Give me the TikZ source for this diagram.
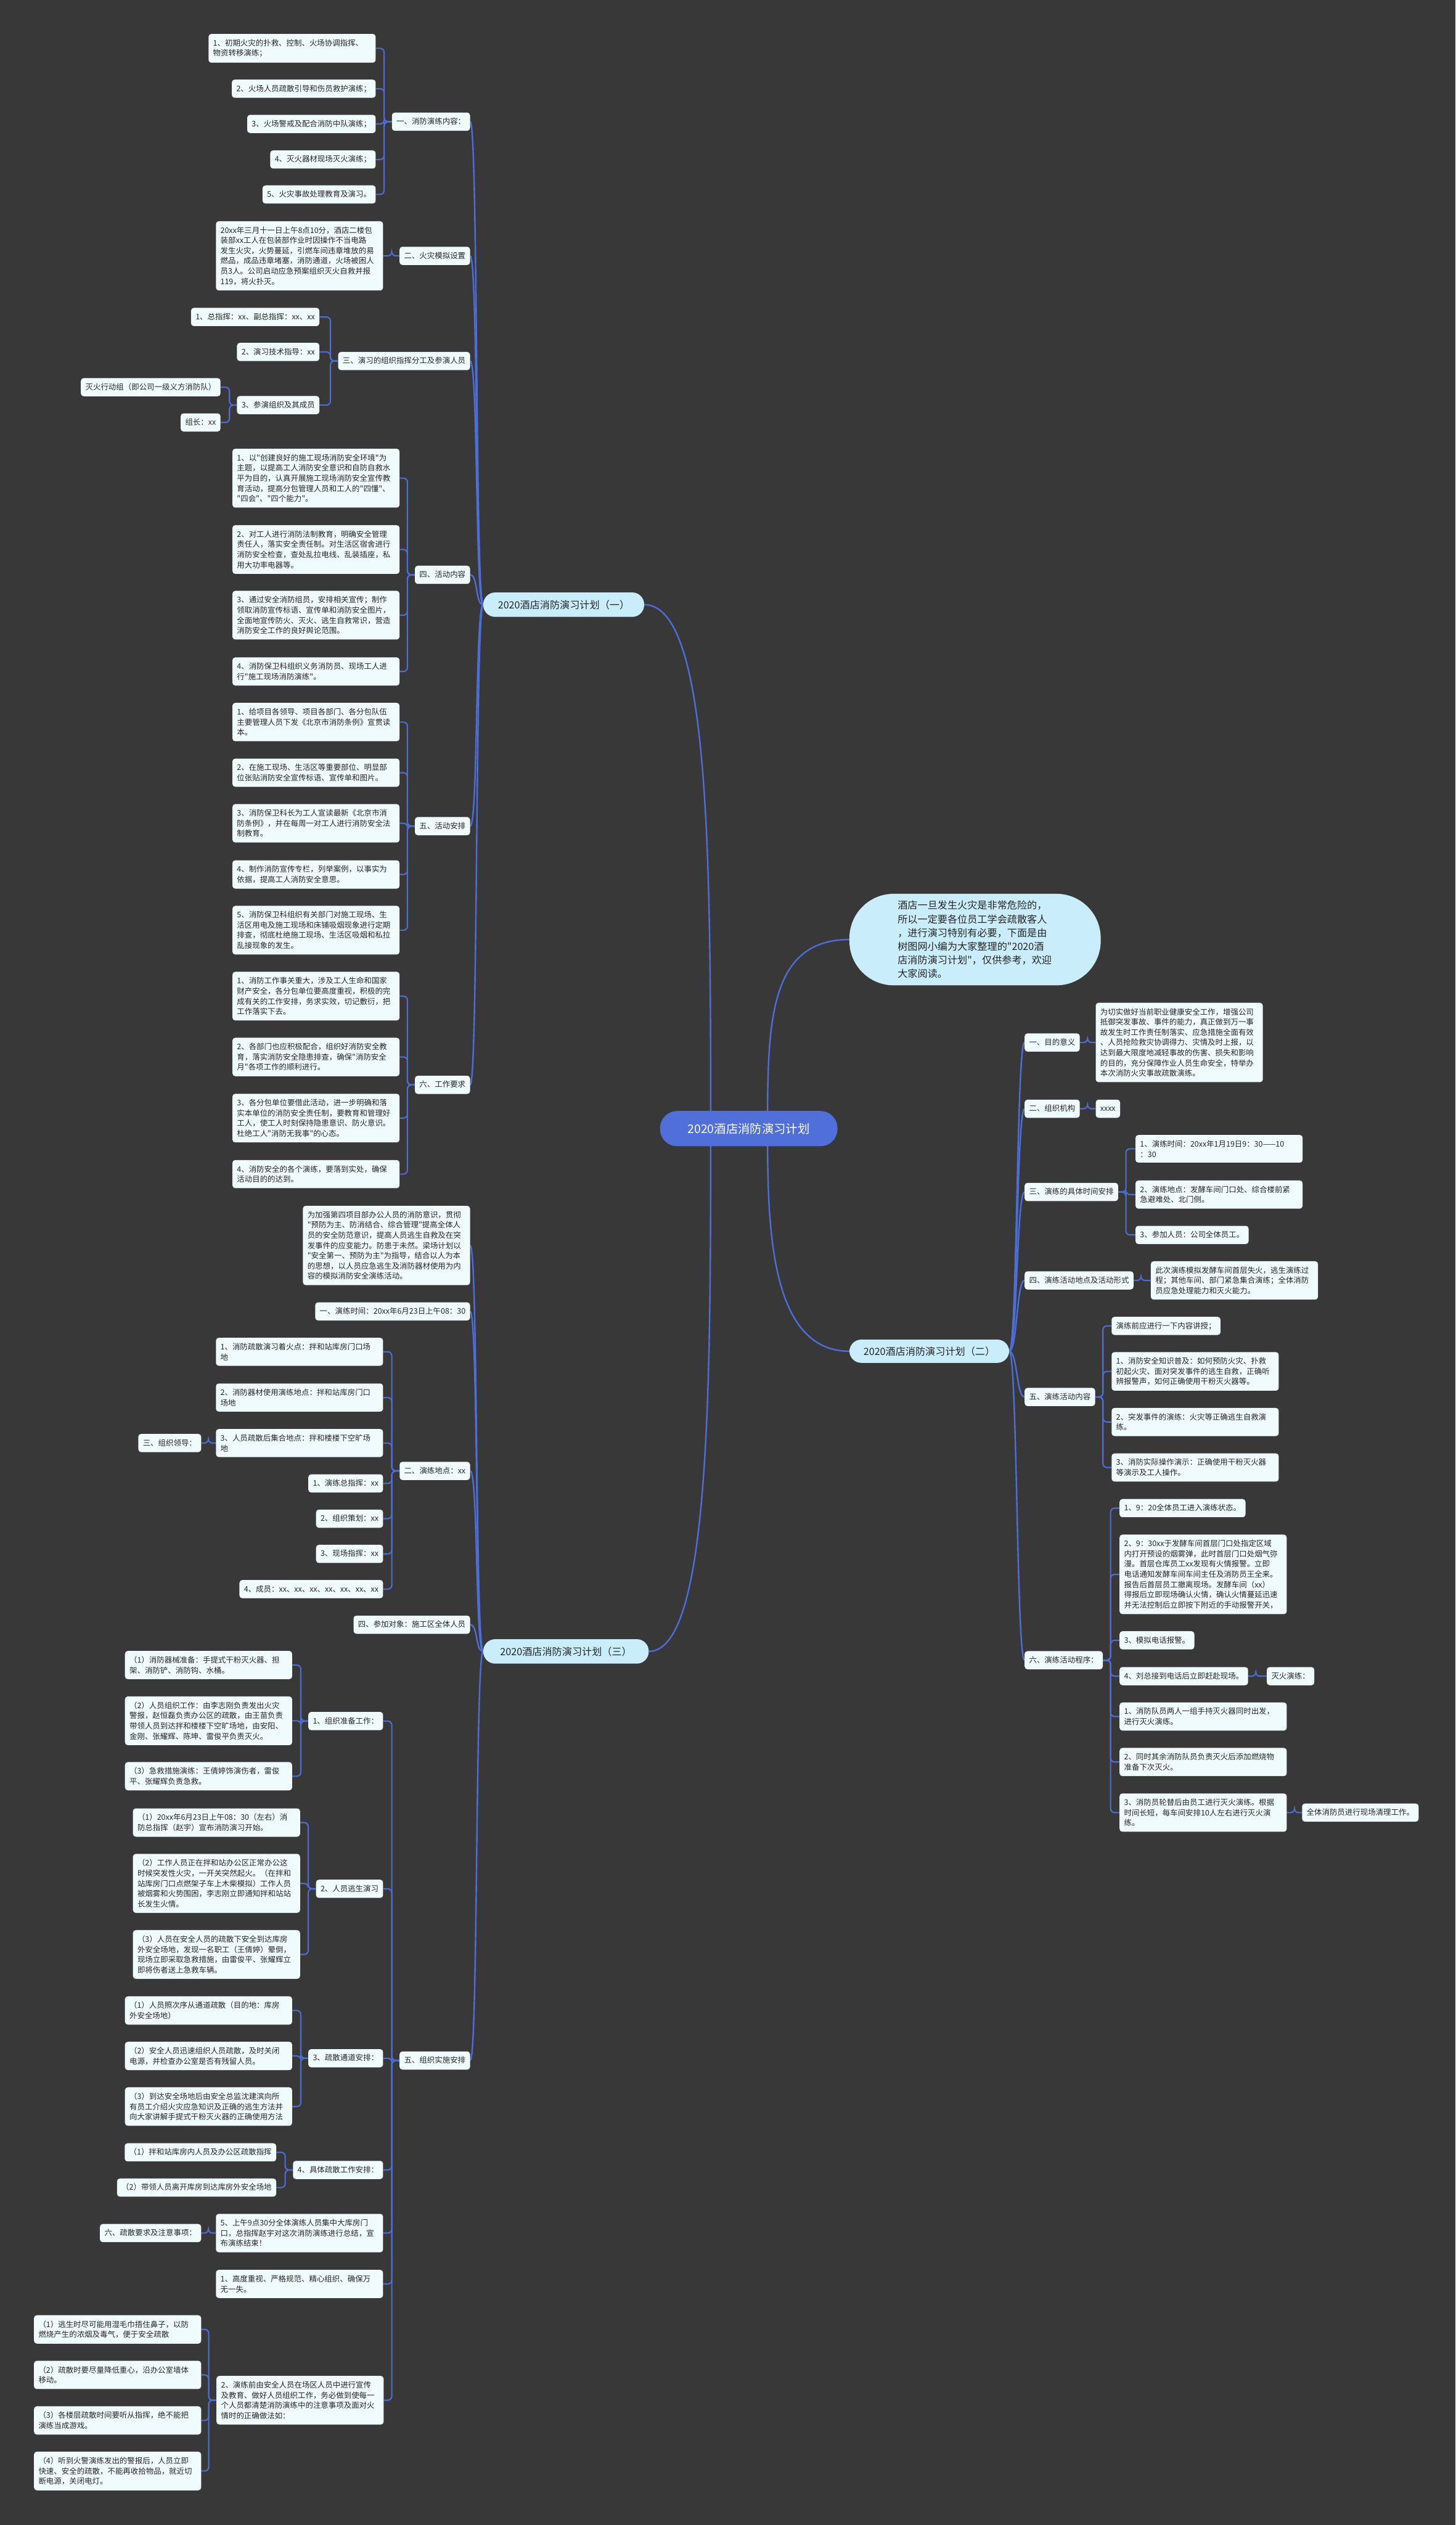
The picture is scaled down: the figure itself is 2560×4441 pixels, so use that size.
\documentclass[tikz,border=0pt]{standalone}
\usepackage{fontspec}
\newfontfamily\cjk{Noto Sans CJK SC}
\usetikzlibrary{backgrounds}
\definecolor{bgc}{HTML}{383838}
\definecolor{lnk}{HTML}{4C6ED6}
\definecolor{boxf}{HTML}{F0FBFE}
\definecolor{lvf}{HTML}{C9EDFB}
\definecolor{ctrf}{HTML}{506FD9}
\definecolor{txt}{HTML}{262626}
\tikzset{
 sbox/.style={fill=boxf, rounded corners=5pt, font=\cjk\fontsize{13.5}{18}\selectfont, text=txt, inner xsep=8pt, inner ysep=9pt, text height=11.5pt, text depth=2.5pt},
 mbox/.style={fill=boxf, rounded corners=5pt, font=\cjk\fontsize{13.5}{18}\selectfont, text=txt, inner xsep=8pt, inner ysep=9.5pt, text width=278pt, align=left},
 lvl/.style={fill=lvf, rounded corners=21pt, font=\cjk\fontsize{17.5}{22}\selectfont, text=txt, minimum height=43pt, inner xsep=0pt},
 ctr/.style={fill=ctrf, rounded corners=30pt, font=\cjk\fontsize{21}{26}\selectfont, text=white, minimum height=62pt, minimum width=312pt},
 intro/.style={fill=lvf, rounded corners=78pt, font=\cjk\fontsize{17.5}{24}\selectfont, text=txt, minimum height=161pt, minimum width=442pt, text width=272pt, align=left},
 lk/.style={draw=lnk, line width=2.3pt, rounded corners=7pt},
 lkc/.style={draw=lnk, line width=2.6pt}
}
\newcommand{\mmL}[3]{\draw[lk] (#1.west) -- ++(-#3,0) |- (#2.east);}
\newcommand{\mmR}[3]{\draw[lk] (#1.east) -- ++(#3,0) |- (#2.west);}
\newcommand{\cvL}[2]{\draw[lkc] (#1.west) .. controls +(-14,0) and +(14,0) .. (#2.east);}
\newcommand{\cvR}[2]{\draw[lkc] (#1.east) .. controls +(14,0) and +(-14,0) .. (#2.west);}
\begin{document}
\begin{tikzpicture}[x=1pt,y=-1pt]
\useasboundingbox (0,0) rectangle (2560,4441);
% centre and level 1
\node[ctr] (C) at (1317,1985) {2020酒店消防演习计划};
\node[lvl,minimum width=283pt] (P1) at (991.5,1063.5) {2020酒店消防演习计划（一）};
\node[lvl,minimum width=291pt] (P3) at (995.5,2904.5) {2020酒店消防演习计划（三）};
\node[lvl,minimum width=281pt,minimum height=41pt] (P2) at (1634.5,2376.5) {2020酒店消防演习计划（二）};
\node[intro] (IN) at (1715,1652.5) {酒店一旦发生火灾是非常危险的，\\所以一定要各位员工学会疏散客人\\，进行演习特别有必要，下面是由\\树图网小编为大家整理的"2020酒\\店消防演习计划"，仅供参考，欢迎\\大家阅读。};
% ---------- part one ----------
\node[sbox,anchor=east] (L1) at (827,214) {一、消防演练内容：};
\node[mbox,anchor=east] (a1) at (661,85) {1、初期火灾的扑救、控制、火场协调指挥、\\物资转移演练；};
\node[sbox,anchor=east] (a2) at (661,156) {2、火场人员疏散引导和伤员救护演练；};
\node[sbox,anchor=east] (a3) at (661,218) {3、火场警戒及配合消防中队演练；};
\node[sbox,anchor=east] (a4) at (661,280.5) {4、灭火器材现场灭火演练；};
\node[sbox,anchor=east] (a5) at (661,342) {5、火灾事故处理教育及演习。};
\node[sbox,anchor=east] (L2) at (827,450) {二、火灾模拟设置};
\node[mbox,anchor=east] (b1) at (674,450) {20xx年三月十一日上午8点10分，酒店二楼包\\装部xx工人在包装部作业时因操作不当电路\\发生火灾，火势蔓延，引燃车间违章堆放的易\\燃品，成品违章堵塞，消防通道，火场被困人\\员3人。公司启动应急预案组织灭火自救并报\\119，将火扑灭。};
\node[sbox,anchor=east] (L3) at (827,635) {三、演习的组织指挥分工及参演人员};
\node[sbox,anchor=east] (c1) at (562,557.5) {1、总指挥：xx、副总指挥：xx、xx};
\node[sbox,anchor=east] (c2) at (562,619) {2、演习技术指导：xx};
\node[sbox,anchor=east] (c3) at (562,712.5) {3、参演组织及其成员};
\node[sbox,anchor=east] (c3a) at (388,681) {灭火行动组（即公司一级义方消防队）};
\node[sbox,anchor=east] (c3b) at (388,743) {组长：xx};
\node[sbox,anchor=east] (L4) at (827,1011) {四、活动内容};
\node[mbox,anchor=east] (e1) at (703,841) {1、以"创建良好的施工现场消防安全环境"为\\主题，以提高工人消防安全意识和自防自救水\\平为目的，认真开展施工现场消防安全宣传教\\育活动，提高分包管理人员和工人的"四懂"、\\"四会"、"四个能力"。};
\node[mbox,anchor=east] (e2) at (703,966.5) {2、对工人进行消防法制教育，明确安全管理\\责任人，落实安全责任制。对生活区宿舍进行\\消防安全检查，查处乱拉电线、乱装插座，私\\用大功率电器等。};
\node[mbox,anchor=east] (e3) at (703,1082) {3、通过安全消防组员，安排相关宣传；制作\\领取消防宣传标语、宣传单和消防安全图片，\\全面地宣传防火、灭火、逃生自救常识，营造\\消防安全工作的良好舆论范围。};
\node[mbox,anchor=east] (e4) at (703,1181) {4、消防保卫科组织义务消防员、现场工人进\\行"施工现场消防演练"。};
\node[sbox,anchor=east] (L5) at (827,1453) {五、活动安排};
\node[mbox,anchor=east] (f1) at (703,1270) {1、给项目各领导、项目各部门、各分包队伍\\主要管理人员下发《北京市消防条例》宣贯读\\本。};
\node[mbox,anchor=east] (f2) at (703,1359) {2、在施工现场、生活区等重要部位、明显部\\位张贴消防安全宣传标语、宣传单和图片。};
\node[mbox,anchor=east] (f3) at (703,1448) {3、消防保卫科长为工人宣读最新《北京市消\\防条例》，并在每周一对工人进行消防安全法\\制教育。};
\node[mbox,anchor=east] (f4) at (703,1538) {4、制作消防宣传专栏，列举案例，以事实为\\依据，提高工人消防安全意思。};
\node[mbox,anchor=east] (f5) at (703,1636) {5、消防保卫科组织有关部门对施工现场、生\\活区用电及施工现场和床铺吸烟现象进行定期\\排查，彻底杜绝施工现场、生活区吸烟和私拉\\乱接现象的发生。};
\node[sbox,anchor=east] (L6) at (827,1908) {六、工作要求};
\node[mbox,anchor=east] (g1) at (703,1752) {1、消防工作事关重大，涉及工人生命和国家\\财产安全，各分包单位要高度重视，积极的完\\成有关的工作安排，务求实效，切记敷衍，把\\工作落实下去。};
\node[mbox,anchor=east] (g2) at (703,1859) {2、各部门也应积极配合，组织好消防安全教\\育，落实消防安全隐患排查，确保"消防安全\\月"各项工作的顺利进行。};
\node[mbox,anchor=east] (g3) at (703,1966.5) {3、各分包单位要借此活动，进一步明确和落\\实本单位的消防安全责任制，要教育和管理好\\工人，使工人时刻保持隐患意识、防火意识。\\杜绝工人"消防无我事"的心态。};
\node[mbox,anchor=east] (g4) at (703,2065) {4、消防安全的各个演练，要落到实处，确保\\活动目的的达到。};
% ---------- part three ----------
\node[mbox,anchor=east] (M1) at (827,2190.5) {为加强第四项目部办公人员的消防意识，贯彻\\"预防为主、防消结合、综合管理"提高全体人\\员的安全防范意识，提高人员逃生自救及在突\\发事件的应变能力。防患于未然。梁场计划以\\"安全第一、预防为主"为指导，结合以人为本\\的思想，以人员应急逃生及消防器材使用为内\\容的模拟消防安全演练活动。};
\node[sbox,anchor=east] (M2) at (827,2306.5) {一、演练时间：20xx年6月23日上午08：30};
\node[sbox,anchor=east] (M3) at (827,2587) {二、演练地点：xx};
\node[mbox,anchor=east] (h1) at (674,2377.5) {1、消防疏散演习着火点：拌和站库房门口场\\地};
\node[mbox,anchor=east] (h2) at (674,2458) {2、消防器材使用演练地点：拌和站库房门口\\场地};
\node[mbox,anchor=east] (h3) at (674,2538) {3、人员疏散后集合地点：拌和楼楼下空旷场\\地};
\node[sbox,anchor=east] (h3a) at (354,2538) {三、组织领导：};
\node[sbox,anchor=east] (h4) at (674,2609) {1、演练总指挥：xx};
\node[sbox,anchor=east] (h5) at (674,2671) {2、组织策划：xx};
\node[sbox,anchor=east] (h6) at (674,2733) {3、现场指挥：xx};
\node[sbox,anchor=east] (h7) at (674,2795) {4、成员：xx、xx、xx、xx、xx、xx、xx};
\node[sbox,anchor=east] (M4) at (827,2857.5) {四、参加对象：施工区全体人员};
\node[sbox,anchor=east] (M5) at (827,3624) {五、组织实施安排};
\node[sbox,anchor=east] (i1) at (674,3027) {1、组织准备工作：};
\node[mbox,anchor=east] (i1a) at (514,2928.5) {（1）消防器械准备：手提式干粉灭火器、担\\架、消防铲、消防钩、水桶。};
\node[mbox,anchor=east] (i1b) at (514,3026.5) {（2）人员组织工作：由李志刚负责发出火灾\\警报，赵恒磊负责办公区的疏散，由王苗负责\\带领人员到达拌和楼楼下空旷场地，由安阳、\\金刚、张耀辉、陈坤、雷俊平负责灭火。};
\node[mbox,anchor=east] (i1c) at (514,3124) {（3）急救措施演练：王倩婷饰演伤者，雷俊\\平、张耀辉负责急救。};
\node[sbox,anchor=east] (i2) at (674,3322) {2、人员逃生演习};
\node[mbox,anchor=east] (i2a) at (528,3205.5) {（1）20xx年6月23日上午08：30（左右）消\\防总指挥（赵宇）宣布消防演习开始。};
\node[mbox,anchor=east] (i2b) at (528,3312.5) {（2）工作人员正在拌和站办公区正常办公这\\时候突发性火灾，一开关突然起火。（在拌和\\站库房门口点燃架子车上木柴模拟）工作人员\\被烟雾和火势围困，李志刚立即通知拌和站站\\长发生火情。};
\node[mbox,anchor=east] (i2c) at (528,3437.5) {（3）人员在安全人员的疏散下安全到达库房\\外安全场地，发现一名职工（王倩婷）晕倒，\\现场立即采取急救措施，由雷俊平、张耀辉立\\即将伤者送上急救车辆。};
\node[sbox,anchor=east] (i3) at (674,3620) {3、疏散通道安排：};
\node[mbox,anchor=east] (i3a) at (514,3536) {（1）人员照次序从通道疏散（目的地：库房\\外安全场地）};
\node[mbox,anchor=east] (i3b) at (514,3616) {（2）安全人员迅速组织人员疏散，及时关闭\\电源，并检查办公室是否有残留人员。};
\node[mbox,anchor=east] (i3c) at (514,3705) {（3）到达安全场地后由安全总监沈建滨向所\\有员工介绍火灾应急知识及正确的逃生方法并\\向大家讲解手提式干粉灭火器的正确使用方法};
\node[sbox,anchor=east] (i4) at (674,3816.5) {4、具体疏散工作安排：};
\node[sbox,anchor=east] (i4a) at (486,3785.5) {（1）拌和站库房内人员及办公区疏散指挥};
\node[sbox,anchor=east] (i4b) at (486,3847.5) {（2）带领人员离开库房到达库房外安全场地};
\node[mbox,anchor=east] (i5) at (674,3927.5) {5、上午9点30分全体演练人员集中大库房门\\口，总指挥赵宇对这次消防演练进行总结，宣\\布演练结束！};
\node[sbox,anchor=east] (i5a) at (354,3927.5) {六、疏散要求及注意事项：};
\node[mbox,anchor=east] (i6) at (674,4017) {1、高度重视、严格规范、精心组织、确保万\\无一失。};
\node[mbox,anchor=east] (i7) at (675,4221.5) {2、演练前由安全人员在场区人员中进行宣传\\及教育、做好人员组织工作，务必做到使每一\\个人员都清楚消防演练中的注意事项及面对火\\情时的正确做法如：};
\node[mbox,anchor=east] (i7a) at (354,4097) {（1）逃生时尽可能用湿毛巾捂住鼻子，以防\\燃烧产生的浓烟及毒气，便于安全疏散};
\node[mbox,anchor=east] (i7b) at (354,4177) {（2）疏散时要尽量降低重心，沿办公室墙体\\移动。};
\node[mbox,anchor=east] (i7c) at (354,4257) {（3）各楼层疏散时间要听从指挥，绝不能把\\演练当成游戏。};
\node[mbox,anchor=east] (i7d) at (354,4346) {（4）听到火警演练发出的警报后，人员立即\\快速、安全的疏散，不能再收拾物品，就近切\\断电源，关闭电灯。};
% ---------- part two (right) ----------
\node[sbox,anchor=west] (R1) at (1802,1833.5) {一、目的意义};
\node[mbox,anchor=west] (r1a) at (1927,1833.5) {为切实做好当前职业健康安全工作，增强公司\\抵御突发事故、事件的能力，真正做到万一事\\故发生时工作责任制落实、应急措施全面有效\\、人员抢险救灾协调得力、灾情及时上报，以\\达到最大限度地减轻事故的伤害、损失和影响\\的目的，充分保障作业人员生命安全，特举办\\本次消防火灾事故疏散演练。};
\node[sbox,anchor=west] (R2) at (1802,1950) {二、组织机构};
\node[sbox,anchor=west] (r2a) at (1927,1950) {xxxx};
\node[sbox,anchor=west] (R3) at (1802,2096.5) {三、演练的具体时间安排};
\node[mbox,anchor=west] (r3a) at (1997,2020.5) {1、演练时间：20xx年1月19日9：30——10\\：30};
\node[mbox,anchor=west] (r3b) at (1997,2101) {2、演练地点：发酵车间门口处、综合楼前紧\\急避难处、北门侧。};
\node[sbox,anchor=west] (r3c) at (1997,2172) {3、参加人员：公司全体员工。};
\node[sbox,anchor=west] (R4) at (1802,2252) {四、演练活动地点及活动形式};
\node[mbox,anchor=west] (r4a) at (2024,2252) {此次演练模拟发酵车间首层失火，逃生演练过\\程；其他车间、部门紧急集合演练；全体消防\\员应急处理能力和灭火能力。};
\node[sbox,anchor=west] (R5) at (1802,2457) {五、演练活动内容};
\node[sbox,anchor=west] (r5a) at (1955,2332) {演练前应进行一下内容讲授；};
\node[mbox,anchor=west] (r5b) at (1955,2412) {1、消防安全知识普及：如何预防火灾、扑救\\初起火灾、面对突发事件的逃生自救，正确听\\辨报警声，如何正确使用干粉灭火器等。};
\node[mbox,anchor=west] (r5c) at (1955,2501) {2、突发事件的演练：火灾等正确逃生自救演\\练。};
\node[mbox,anchor=west] (r5d) at (1955,2581) {3、消防实际操作演示：正确使用干粉灭火器\\等演示及工人操作。};
\node[sbox,anchor=west] (R6) at (1802,2920) {六、演练活动程序：};
\node[sbox,anchor=west] (r6a) at (1969,2652.5) {1、9：20全体员工进入演练状态。};
\node[mbox,anchor=west] (r6b) at (1969,2769) {2、9：30xx于发酵车间首层门口处指定区域\\内打开预设的烟雾弹，此时首层门口处烟气弥\\漫。首层仓库员工xx发现有火情报警。立即\\电话通知发酵车间车间主任及消防员王全来。\\报告后首层员工撤离现场。发酵车间（xx）\\得报后立即现场确认火情，确认火情蔓延迅速\\并无法控制后立即按下附近的手动报警开关，};
\node[sbox,anchor=west] (r6c) at (1969,2885) {3、模拟电话报警。};
\node[sbox,anchor=west] (r6d) at (1969,2948) {4、刘总接到电话后立即赶赴现场。};
\node[sbox,anchor=west] (r6d1) at (2228,2948) {灭火演练：};
\node[mbox,anchor=west] (r6e) at (1969,3019) {1、消防队员两人一组手持灭火器同时出发，\\进行灭火演练。};
\node[mbox,anchor=west] (r6f) at (1969,3099) {2、同时其余消防队员负责灭火后添加燃烧物\\准备下次灭火。};
\node[mbox,anchor=west] (r6g) at (1969,3188) {3、消防员轮替后由员工进行灭火演练。根据\\时间长短，每车间安排10人左右进行灭火演\\练。};
\node[sbox,anchor=west] (r6g1) at (2290,3188) {全体消防员进行现场清理工作。};
% ---------- connectors ----------
\begin{pgfonlayer}{background}
\fill[bgc] (0,0) rectangle (2560,4441);
\draw[lkc] (P1.east) .. controls (1248,1063.5) and (1250,1500) .. (1250,1985);
\draw[lkc] (P3.east) .. controls (1248,2904.5) and (1250,2450) .. (1250,1985);
\draw[lkc] (IN.west) .. controls (1352,1652.5) and (1350,1800) .. (1350,1985);
\draw[lkc] (P2.west) .. controls (1352,2376.5) and (1350,2150) .. (1350,1985);
\foreach \c in {L1,L2,L3,L4,L5,L6} {\cvL{P1}{\c}}
\foreach \c in {M1,M2,M3,M4,M5} {\cvL{P3}{\c}}
\foreach \c in {R1,R2,R3,R4,R5,R6} {\cvR{P2}{\c}}
\foreach \c in {a1,a2,a3,a4,a5} {\mmL{L1}{\c}{13.5}}
\mmL{L2}{b1}{13.5}
\foreach \c in {c1,c2,c3} {\mmL{L3}{\c}{13.5}}
\foreach \c in {c3a,c3b} {\mmL{c3}{\c}{13}}
\foreach \c in {e1,e2,e3,e4} {\mmL{L4}{\c}{13}}
\foreach \c in {f1,f2,f3,f4,f5} {\mmL{L5}{\c}{13}}
\foreach \c in {g1,g2,g3,g4} {\mmL{L6}{\c}{13}}
\foreach \c in {h1,h2,h3,h4,h5,h6,h7} {\mmL{M3}{\c}{13.5}}
\mmL{h3}{h3a}{13}
\foreach \c in {i1,i2,i3,i4,i5,i6,i7} {\mmL{M5}{\c}{13.5}}
\foreach \c in {i1a,i1b,i1c} {\mmL{i1}{\c}{13}}
\foreach \c in {i2a,i2b,i2c} {\mmL{i2}{\c}{13.5}}
\foreach \c in {i3a,i3b,i3c} {\mmL{i3}{\c}{13}}
\foreach \c in {i4a,i4b} {\mmL{i4}{\c}{13.5}}
\mmL{i5}{i5a}{13}
\foreach \c in {i7a,i7b,i7c,i7d} {\mmL{i7}{\c}{13.5}}
\mmR{R1}{r1a}{13.5}
\mmR{R2}{r2a}{13.5}
\foreach \c in {r3a,r3b,r3c} {\mmR{R3}{\c}{13.5}}
\mmR{R4}{r4a}{13}
\foreach \c in {r5a,r5b,r5c,r5d} {\mmR{R5}{\c}{13.5}}
\foreach \c in {r6a,r6b,r6c,r6d,r6e,r6f,r6g} {\mmR{R6}{\c}{13.5}}
\mmR{r6d}{r6d1}{13.5}
\mmR{r6g}{r6g1}{13.5}
\end{pgfonlayer}
\end{tikzpicture}
\end{document}
